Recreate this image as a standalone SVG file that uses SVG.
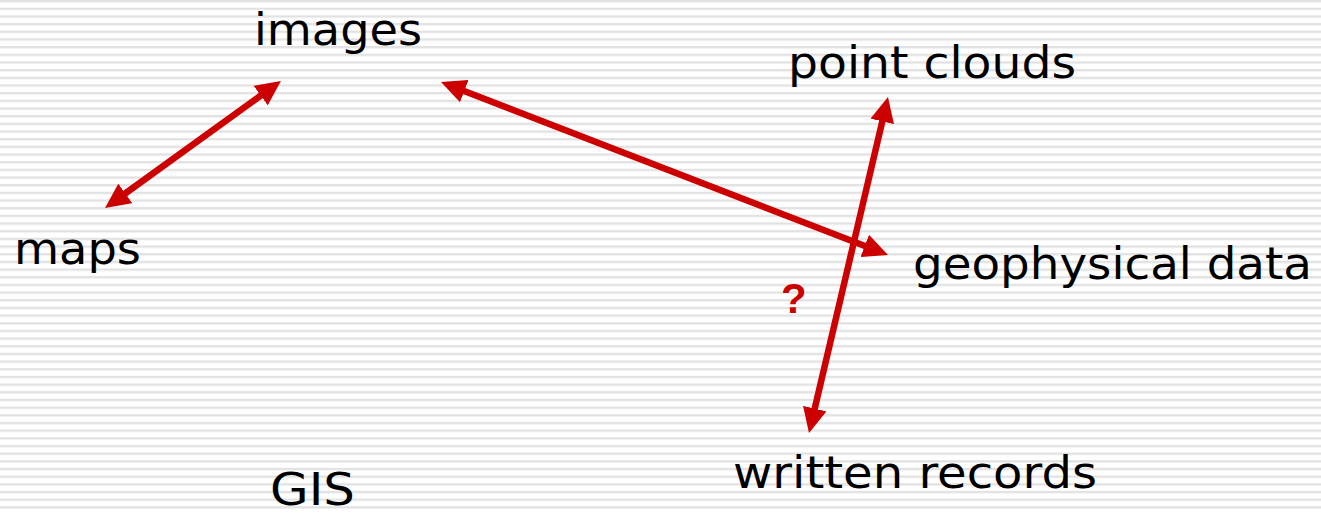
<svg xmlns="http://www.w3.org/2000/svg" width="1321" height="513" viewBox="0 0 1321 513">
<style>
.lbl{font-family:"DejaVu Sans","Liberation Sans",sans-serif;font-size:44px;fill:#000}
.q{font-family:"Liberation Sans",Arial,sans-serif;font-size:42px;font-weight:bold;fill:#cc0000}
.con{stroke:#cc0000;stroke-width:6.5;fill:none}
</style>
<defs>
<pattern id="stripes" patternUnits="userSpaceOnUse" width="20" height="7.67">
<rect x="0" y="0" width="20" height="7.67" fill="#ffffff"/>
<rect x="0" y="0" width="20" height="2" fill="#e2e2e2"/>
<rect x="0" y="2" width="20" height="0.8" fill="#f0f0f0"/>
</pattern>
<marker id="ah" markerUnits="userSpaceOnUse" markerWidth="26" markerHeight="24" viewBox="0 0 26 24" refX="1" refY="12" orient="auto-start-reverse">
<path d="M0,0 L25,12 L0,24 Z" fill="#cc0000"/>
</marker>
</defs>
<rect width="1321" height="513" fill="url(#stripes)"/>
<g id="connectors">
<line class="con" x1="124.5" y1="194" x2="261.5" y2="95" marker-start="url(#ah)" marker-end="url(#ah)"/>
<line class="con" x1="463.4" y1="90.7" x2="865.6" y2="246.3" marker-start="url(#ah)" marker-end="url(#ah)"/>
<line class="con" x1="882.5" y1="120.4" x2="814.5" y2="409.6" marker-start="url(#ah)" marker-end="url(#ah)"/>
</g>
<g id="node-images"><text class="lbl" x="254" y="45" textLength="168" lengthAdjust="spacingAndGlyphs">images</text></g>
<g id="node-pointclouds"><text class="lbl" x="788" y="78" textLength="288" lengthAdjust="spacingAndGlyphs">point clouds</text></g>
<g id="node-maps"><text class="lbl" x="14" y="264" textLength="127" lengthAdjust="spacingAndGlyphs">maps</text></g>
<g id="node-geophysical"><text class="lbl" x="913" y="279" textLength="399" lengthAdjust="spacingAndGlyphs">geophysical data</text></g>
<g id="node-written"><text class="lbl" x="733" y="488" textLength="364" lengthAdjust="spacingAndGlyphs">written records</text></g>
<g id="node-gis"><text class="lbl" x="270" y="505" textLength="85" lengthAdjust="spacingAndGlyphs">GIS</text></g>
<g id="label-q"><text class="q" x="781" y="313">?</text></g>
</svg>
